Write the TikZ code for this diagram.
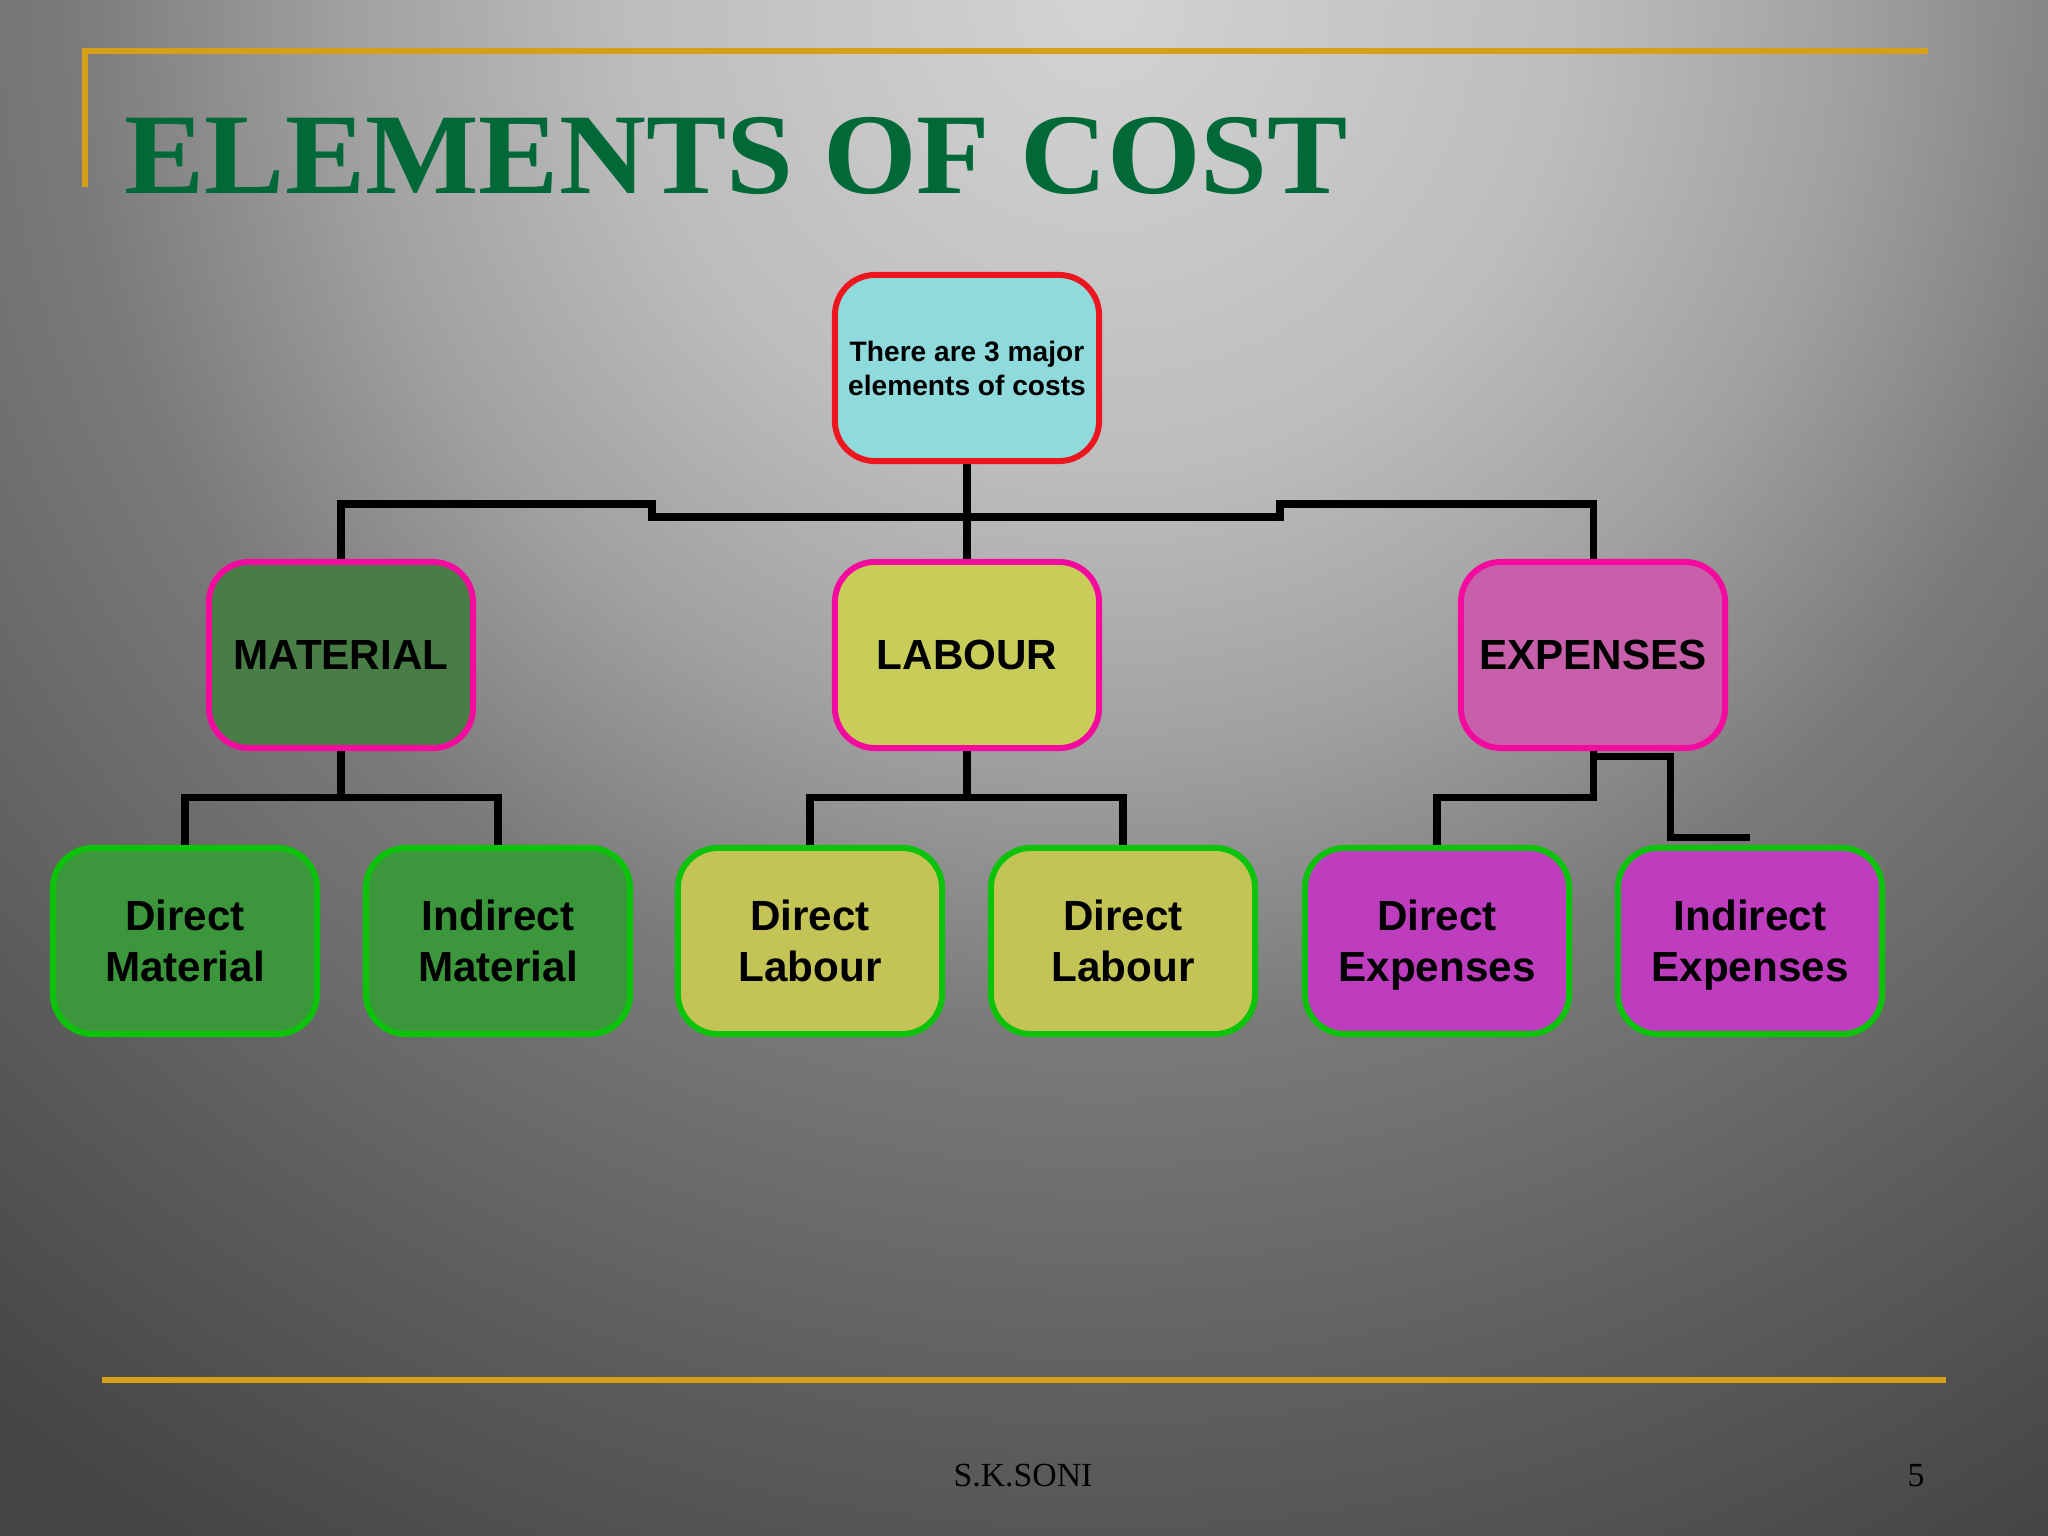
\documentclass[tikz,border=0pt]{standalone}
\usepackage{fontspec}
\setmainfont{Liberation Serif}
\newfontfamily\boxfont{Liberation Sans}

\definecolor{headcyan}{RGB}{143,218,220}
\definecolor{boxred}{RGB}{238,22,30}
\definecolor{boxpink}{RGB}{245,10,160}
\definecolor{boxgreen}{RGB}{10,195,10}
\definecolor{matmain}{RGB}{72,125,70}
\definecolor{labmain}{RGB}{200,205,90}
\definecolor{expmain}{RGB}{200,95,170}
\definecolor{matsub}{RGB}{60,150,60}
\definecolor{labsub}{RGB}{196,196,86}
\definecolor{expsub}{RGB}{190,60,190}
\definecolor{titlegreen}{RGB}{0,105,55}
\definecolor{slidegold}{RGB}{214,160,22}

% glow of the slide
\pgfdeclareradialshading{slidebg}{\pgfpoint{0bp}{0bp}}{%
  rgb(0bp)=(0.83,0.83,0.83);
  rgb(5.9bp)=(0.74,0.74,0.74);
  rgb(9.4bp)=(0.63,0.63,0.63);
  rgb(12.9bp)=(0.48,0.48,0.48);
  rgb(18.1bp)=(0.36,0.36,0.36);
  rgb(22.4bp)=(0.27,0.27,0.27);
  rgb(50bp)=(0.27,0.27,0.27)}

\tikzset{
  box/.style={draw, rounded corners=0.4cm, line width=1.7pt,
    minimum width=2.64cm, minimum height=1.86cm, inner sep=0pt,
    align=center, font=\boxfont\bfseries\fontsize{12}{14.6}\selectfont},
  headbox/.style={box, draw=boxred, fill=headcyan,
    font=\boxfont\bfseries\fontsize{8}{9.7}\selectfont},
  mainbox/.style={box, draw=boxpink},
  subbox/.style={box, draw=boxgreen, text depth=0pt},
  link/.style={line width=2pt},
  goldline/.style={draw=slidegold, line width=1.5pt}
}

\begin{document}
\begin{tikzpicture}[x=0.01cm, y=-0.01cm]
            % Slide background
            \useasboundingbox (0,0) rectangle (2048,1536);
            \begin{scope}
              \clip (0,0) rectangle (2048,1536);
              \shade [shading=slidebg] (1100,0) circle (2000);
            \end{scope}

            % Gold rules and the title
            \draw [goldline] (85,187) -- (85,51) -- (1928,51);
            \draw [goldline] (102,1380) -- (1946,1380);
            \node [anchor=base west, inner sep=0pt, text=titlegreen,
              font=\bfseries\fontsize{32.7}{36}\selectfont] (title) at (124,193)
              {\scalebox{1.046}[1]{ELEMENTS OF COST}};

            % Top box and the three elements
            \node [headbox] (top) at (967,368) {There are 3 major\\ elements of costs};
            \foreach \n/\x/\c/\t in {
              material/341/matmain/MATERIAL,
              labour/967/labmain/LABOUR,
              expenses/1593/expmain/EXPENSES} {
              \node [mainbox, fill=\c] (\n) at (\x,655) {\t};
            }

            % Bottom row
            \foreach \n/\x/\c/\t in {
              dm/185/matsub/{Direct\\Material},
              im/498/matsub/{Indirect\\Material},
              dl/810/labsub/{Direct\\Labour},
              il/1123/labsub/{Direct\\Labour},
              de/1437/expsub/{Direct\\Expenses},
              ie/1750/expsub/{Indirect\\Expenses}} {
              \node [subbox, fill=\c] (\n) at (\x,941) {\t};
            }

            % Connectors from the top box
            \coordinate (bus) at (967,517);
            \coordinate (busL) at (652,504);
            \coordinate (busR) at (1280,504);
            \draw [link] (top.south) -- (labour.north);
            \draw [link] (material.north) |- (busL) |- (bus);
            \draw [link] (expenses.north) |- (busR) |- (bus);

            % Connectors to the bottom row
            \foreach \p/\a/\b in {material/dm/im, labour/dl/il} {
              \draw [link] (\p.south) -- ++(0,46) coordinate (\p j);
              \draw [link] (\a.north) |- (\p j) -| (\b.north);
            }
            \draw [link] (expenses.south) -- ++(0,46) -| (de.north);
            \coordinate (iej) at (1670,800);
            \draw [link] ([yshift=-1.5pt]expenses.south) -| (iej) |- ([yshift=2pt]ie.north);

            % Footer
            \node [anchor=base, inner sep=0pt, font=\fontsize{9.6}{12}\selectfont] (author) at (1023,1486) {S.K.SONI};
            \node [anchor=base, inner sep=0pt, font=\fontsize{9.6}{12}\selectfont] (page) at (1916,1486) {5};
        \end{tikzpicture}
\end{document}
